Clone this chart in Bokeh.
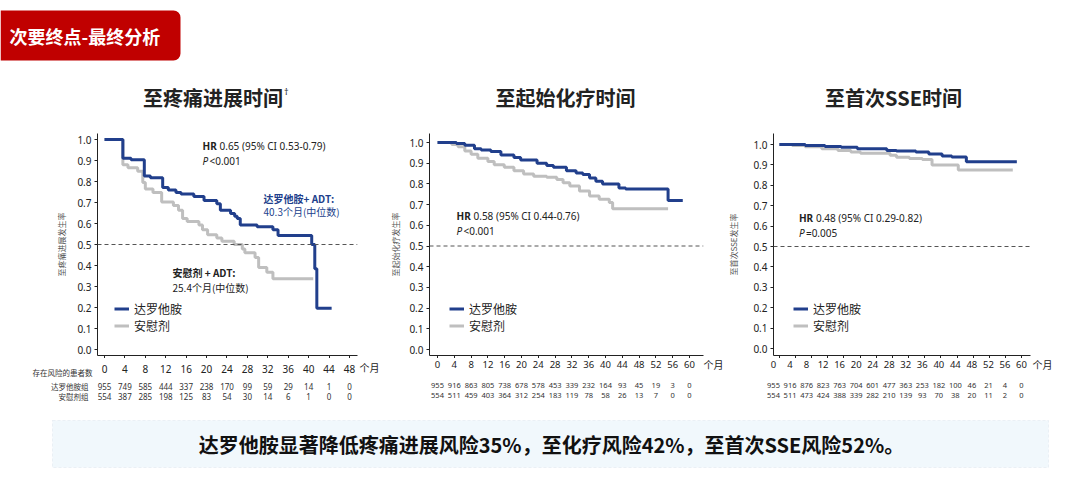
from bokeh.plotting import figure
from bokeh.models import (Range1d, FixedTicker, PrintfTickFormatter, Span, Label, LabelSet,
                          ColumnDataSource, Legend, LegendItem, BoxAnnotation)
from bokeh.layouts import row, column
from bokeh.embed import file_html
from bokeh.resources import INLINE
from bokeh.core.properties import value

CJK = "Noto Sans CJK SC"
LAT = "Noto Sans"
BLUE = "#213f8c"
GRAY = "#bfbfbf"

# ---------------- data ----------------
header_title = "次要终点-最终分析"
chart_titles = ["至疼痛进展时间", "至起始化疗时间", "至首次SSE时间"]
title_marks = ["†", "", ""]
y_labels = ["至疼痛进展发生率", "至起始化疗发生率", "至首次SSE发生率"]
arm_names = ["达罗他胺", "安慰剂"]
risk_row_labels = ["存在风险的患者数", "达罗他胺组", "安慰剂组"]
hr_texts = ["0.65 (95% CI 0.53-0.79)", "0.58 (95% CI 0.44-0.76)", "0.48 (95% CI 0.29-0.82)"]
p_texts = ["<0.001", "<0.001", "=0.005"]
median_dar = ["达罗他胺+ ADT:", "40.3个月(中位数)"]
median_pla = ["安慰剂 + ADT:", "25.4个月(中位数)"]
banner_text = "达罗他胺显著降低疼痛进展风险35%，至化疗风险42%，至首次SSE风险52%。"
unit_label = "个月"
y_ticks = [0.0, 0.1, 0.2, 0.3, 0.4, 0.5, 0.6, 0.7, 0.8, 0.9, 1.0]
x_ticks_48 = [0, 4, 8, 12, 16, 20, 24, 28, 32, 36, 40, 44, 48]
x_ticks_60 = [0, 4, 8, 12, 16, 20, 24, 28, 32, 36, 40, 44, 48, 52, 56, 60]

# Time to pain progression
pain_dar_t = [0, 3.6, 5.2, 7.8, 9.0, 11.4, 12.5, 14.0, 15.0, 17.5, 19.5, 22.0, 22.7, 24.7, 25.5, 26.0, 26.6, 29.9, 33.0, 34.0, 40.6, 41.2, 41.6, 44.5]
pain_dar_s = [1.0, 0.911, 0.904, 0.826, 0.818, 0.772, 0.760, 0.748, 0.741, 0.728, 0.710, 0.694, 0.663, 0.648, 0.635, 0.624, 0.593, 0.585, 0.570, 0.543, 0.500, 0.384, 0.197, 0.197]
pain_pla_t = [0, 3.6, 4.6, 6.5, 7.5, 8.0, 9.5, 11.2, 13.5, 14.5, 15.3, 16.2, 18.5, 19.2, 20.2, 22.0, 23.0, 25.4, 27.0, 27.5, 29.5, 30.2, 31.8, 33.0, 40.9]
pain_pla_s = [1.0, 0.880, 0.865, 0.849, 0.795, 0.764, 0.748, 0.702, 0.686, 0.663, 0.624, 0.609, 0.593, 0.570, 0.547, 0.531, 0.516, 0.500, 0.478, 0.461, 0.438, 0.391, 0.368, 0.337, 0.337]
pain_risk_dar = [955, 749, 585, 444, 337, 238, 170, 99, 59, 29, 14, 1, 0]
pain_risk_pla = [554, 387, 285, 198, 125, 83, 54, 30, 14, 6, 1, 0, 0]

# Time to chemotherapy
chemo_dar_t = [0, 4.5, 6.5, 8.8, 10.4, 12.7, 15.1, 18.2, 19.8, 23.7, 26.0, 27.6, 30.7, 33.0, 34.6, 36.2, 37.7, 39.3, 43.2, 44.8, 54.9, 58.4]
chemo_dar_s = [1.0, 0.995, 0.987, 0.970, 0.964, 0.956, 0.940, 0.927, 0.916, 0.900, 0.889, 0.880, 0.864, 0.853, 0.845, 0.829, 0.813, 0.800, 0.780, 0.775, 0.720, 0.720]
chemo_pla_t = [0, 3.4, 4.9, 6.5, 8.0, 9.6, 12.0, 13.5, 15.9, 18.2, 20.5, 22.9, 26.0, 28.4, 29.9, 31.5, 33.8, 36.2, 38.5, 40.9, 41.7, 54.9]
chemo_pla_s = [1.0, 0.990, 0.979, 0.959, 0.943, 0.924, 0.908, 0.892, 0.880, 0.864, 0.848, 0.837, 0.832, 0.821, 0.805, 0.790, 0.766, 0.742, 0.726, 0.710, 0.680, 0.680]
chemo_risk_dar = [955, 916, 863, 805, 738, 678, 578, 453, 339, 232, 164, 93, 45, 19, 3, 0]
chemo_risk_pla = [554, 511, 459, 403, 364, 312, 254, 183, 119, 78, 58, 26, 13, 7, 0, 0]

# Time to first SSE
sse_dar_t = [0, 6.4, 11.3, 15.3, 19.3, 26.6, 29.0, 33.8, 37.0, 40.3, 42.7, 46.3, 58.8]
sse_dar_s = [1.0, 0.995, 0.990, 0.986, 0.979, 0.971, 0.968, 0.963, 0.954, 0.944, 0.939, 0.915, 0.915]
sse_pla_t = [0, 3.2, 6.4, 10.5, 14.5, 17.7, 20.1, 27.4, 29.0, 32.2, 35.4, 37.8, 44.3, 57.8]
sse_pla_s = [1.0, 0.995, 0.989, 0.979, 0.971, 0.963, 0.957, 0.947, 0.938, 0.931, 0.927, 0.900, 0.875, 0.875]
sse_risk_dar = [955, 916, 876, 823, 763, 704, 601, 477, 363, 253, 182, 100, 46, 21, 4, 0]
sse_risk_pla = [554, 511, 473, 424, 388, 339, 282, 210, 139, 93, 70, 38, 20, 11, 2, 0]

# ---------------- layout geometry (page px) ----------------
W = 1080
HEAD_H = 115                      # header strip: badge + chart titles
FIG_TOP, FRAME_TOP, FRAME_BOTTOM, FIG_BOTTOM = 115, 133, 355, 358
STRIP_BOTTOM = 410                # tick labels + numbers at risk
BANNER_BOTTOM = 478

charts = [
    dict(fig=(0, 385), frame=(97, 357), x0=104, ppx=5.104, y0=349, ppy=210,
         ticks=x_ticks_48, tick_fs="10px", tick_y=368, ylab_stand=7, title_x=212.5,
         dar=(pain_dar_t, pain_dar_s), pla=(pain_pla_t, pain_pla_s),
         risk=(pain_risk_dar, pain_risk_pla), risk_y=(386, 396), risk_fs="8px",
         hr=(202, 145), unit_x=359, unit_y=367, leg_x=17),
    dict(fig=(385, 725), frame=(429, 703), x0=437, ppx=4.2, y0=349, ppy=207,
         ticks=x_ticks_60, tick_fs="9.5px", tick_y=364, ylab_stand=5, title_x=565,
         dar=(chemo_dar_t, chemo_dar_s), pla=(chemo_pla_t, chemo_pla_s),
         risk=(chemo_risk_dar, chemo_risk_pla), risk_y=(385, 395), risk_fs="7.5px",
         hr=(456, 215), unit_x=703, unit_y=364, leg_x=20),
    dict(fig=(725, 1080), frame=(767, 1030), x0=773, ppx=4.133, y0=348, ppy=204,
         ticks=x_ticks_60, tick_fs="9.5px", tick_y=364, ylab_stand=11, title_x=893,
         dar=(sse_dar_t, sse_dar_s), pla=(sse_pla_t, sse_pla_s),
         risk=(sse_risk_dar, sse_risk_pla), risk_y=(385, 395), risk_fs="7.5px",
         hr=(793, 217), unit_x=1032, unit_y=364, leg_x=20),
]


def mx(c, X):
    return (X - c["x0"]) / c["ppx"]


def vy(c, Y):
    return (c["y0"] - Y) / c["ppy"]


# ---------------- header (badge + chart titles) ----------------
h = figure(width=W, height=HEAD_H, x_range=Range1d(0, W), y_range=Range1d(0, HEAD_H),
           min_border=0, toolbar_location=None, output_backend="svg", title=None,
           x_axis_location=None, y_axis_location=None)
h.outline_line_color = None
h.grid.visible = False
h.add_layout(BoxAnnotation(left=0, right=180, bottom=HEAD_H - 60, top=HEAD_H - 10,
                           fill_color="#c00000", fill_alpha=1, line_color=None,
                           border_radius=(0, 7, 7, 0)))
h.add_layout(Label(x=9, y=HEAD_H - 35, text=header_title, text_color="white", text_font=CJK,
                   text_font_size="18px", text_font_style="bold", text_baseline="middle"))
for i, c in enumerate(charts):
    h.add_layout(Label(x=c["title_x"], y=HEAD_H - 97, text=chart_titles[i], text_font=CJK,
                       text_font_size="20px", text_font_style="bold", text_color="#222222",
                       text_align="center", text_baseline="middle"))
    if title_marks[i]:
        h.add_layout(Label(x=c["title_x"] + 71, y=HEAD_H - 91, text=title_marks[i], text_font=LAT,
                           text_font_size="9px", text_color="#222222", text_baseline="middle"))

# ---------------- KM charts ----------------
figs = []
for i, c in enumerate(charts):
    fl, fr = c["fig"]
    al, ar = c["frame"]
    p = figure(width=fr - fl, height=FIG_BOTTOM - FIG_TOP, title=None,
               x_range=Range1d(mx(c, al), mx(c, ar)),
               y_range=Range1d(vy(c, FRAME_BOTTOM), vy(c, FRAME_TOP)),
               min_border_left=al - fl, min_border_right=fr - ar,
               min_border_top=FRAME_TOP - FIG_TOP, min_border_bottom=FIG_BOTTOM - FRAME_BOTTOM,
               toolbar_location=None, output_backend="svg")
    p.outline_line_color = None
    p.xgrid.visible = False
    p.ygrid.visible = False

    p.xaxis.ticker = FixedTicker(ticks=c["ticks"])
    p.yaxis.ticker = FixedTicker(ticks=y_ticks)
    p.yaxis.formatter = PrintfTickFormatter(format="%.1f")
    for ax in (p.xaxis, p.yaxis):
        ax.major_tick_in = 0
        ax.major_tick_out = 3
        ax.minor_tick_line_color = None
        ax.axis_line_color = "#222222"
        ax.major_tick_line_color = "#222222"
        ax.major_label_text_font = LAT
        ax.major_label_text_color = "#222222"
    # x tick labels are written in the strip below (same scale), so the axis keeps only ticks
    p.xaxis.major_label_overrides = {t_: "" for t_ in c["ticks"]}
    p.xaxis.major_label_text_font_size = "0px"
    p.xaxis.major_label_standoff = 0
    p.yaxis.major_label_text_font_size = "10px"
    p.yaxis.major_label_standoff = 3
    p.yaxis.axis_label = y_labels[i]
    p.yaxis.axis_label_text_font = CJK
    p.yaxis.axis_label_text_font_size = "8px"
    p.yaxis.axis_label_text_font_style = "normal"
    p.yaxis.axis_label_text_color = "#555555"
    p.yaxis.axis_label_standoff = c["ylab_stand"]

    p.add_layout(Span(location=0.5, dimension="width", line_color="#555555",
                      line_dash="4 3", line_width=1))

    r_p = p.step(c["pla"][0], c["pla"][1], mode="after", line_color=GRAY, line_width=3)
    r_d = p.step(c["dar"][0], c["dar"][1], mode="after", line_color=BLUE, line_width=3)

    leg = Legend(items=[LegendItem(label=arm_names[0], renderers=[r_d]),
                        LegendItem(label=arm_names[1], renderers=[r_p])],
                 location=(c["leg_x"], 21))
    leg.background_fill_alpha = 0
    leg.border_line_alpha = 0
    leg.glyph_width = 15
    leg.glyph_height = 15
    leg.label_height = 15
    leg.label_standoff = 5
    leg.spacing = 0
    leg.padding = 0
    leg.margin = 0
    leg.label_text_font = CJK
    leg.label_text_font_size = "12px"
    leg.label_text_color = "#222222"
    p.add_layout(leg)

    hx, hy = c["hr"]
    p.add_layout(Label(x=mx(c, hx), y=vy(c, hy), text="HR", text_font=LAT,
                       text_font_size="10px", text_font_style="bold", text_color="#222222",
                       text_baseline="middle"))
    p.add_layout(Label(x=mx(c, hx), y=vy(c, hy), x_offset=17, text=hr_texts[i], text_font=LAT,
                       text_font_size="10px", text_color="#222222", text_baseline="middle"))
    p.add_layout(Label(x=mx(c, hx), y=vy(c, hy + 15), text="P", text_font=LAT,
                       text_font_size="10px", text_font_style="italic", text_color="#222222",
                       text_baseline="middle"))
    p.add_layout(Label(x=mx(c, hx), y=vy(c, hy + 15), x_offset=7, text=p_texts[i], text_font=LAT,
                       text_font_size="10px", text_color="#222222", text_baseline="middle"))

    if i == 0:
        for k, (txt, Y) in enumerate(zip(median_dar, (198, 211))):
            p.add_layout(Label(x=mx(c, 263), y=vy(c, Y), text=txt, text_font=CJK,
                               text_font_size="10px", text_font_style="bold" if k == 0 else "normal",
                               text_color=BLUE, text_baseline="middle"))
        for k, (txt, Y) in enumerate(zip(median_pla, (272, 287))):
            p.add_layout(Label(x=mx(c, 172), y=vy(c, Y), text=txt, text_font=CJK,
                               text_font_size="10px", text_font_style="bold" if k == 0 else "normal",
                               text_color="#222222", text_baseline="middle"))
    figs.append(p)

# ---------------- strip: x tick labels, unit and numbers at risk ----------------
SH = STRIP_BOTTOM - FIG_BOTTOM
t = figure(width=W, height=SH, x_range=Range1d(0, W), y_range=Range1d(0, SH),
           min_border=0, toolbar_location=None, output_backend="svg", title=None,
           x_axis_location=None, y_axis_location=None)
t.outline_line_color = None
t.grid.visible = False
t.extra_x_ranges = {"c%d" % i: Range1d(mx(c, 0), mx(c, W)) for i, c in enumerate(charts)}
for i, c in enumerate(charts):
    ticks = c["ticks"]
    n = len(ticks)
    tick_src = ColumnDataSource(dict(x=list(ticks), y=[STRIP_BOTTOM - c["tick_y"]] * n,
                                     text=[str(v) for v in ticks]))
    t.add_layout(LabelSet(source=tick_src, x="x", y="y", text="text", x_range_name="c%d" % i,
                          text_align="center", text_baseline="middle", text_font=value(LAT),
                          text_font_size=c["tick_fs"], text_color="#222222"))
    y1, y2 = STRIP_BOTTOM - c["risk_y"][0], STRIP_BOTTOM - c["risk_y"][1]
    src = ColumnDataSource(dict(
        x=list(ticks) + list(ticks),
        y=[y1] * n + [y2] * n,
        text=[str(v) for v in c["risk"][0]] + [str(v) for v in c["risk"][1]],
    ))
    t.add_layout(LabelSet(source=src, x="x", y="y", text="text", x_range_name="c%d" % i,
                          text_align="center", text_baseline="middle", text_font=value(LAT),
                          text_font_size=c["risk_fs"], text_color="#333333"))
    t.add_layout(Label(x=c["unit_x"], y=STRIP_BOTTOM - c["unit_y"], text=unit_label, text_font=CJK,
                       text_font_size="10px", text_color="#222222", text_baseline="middle"))
for txt, X, Y in zip(risk_row_labels, (92, 88, 88), (372, 386, 396)):
    t.add_layout(Label(x=X, y=STRIP_BOTTOM - Y, text=txt, text_font=CJK,
                       text_font_size="7.5px", text_color="#333333",
                       text_align="right", text_baseline="middle"))

# ---------------- banner ----------------
BH = BANNER_BOTTOM - STRIP_BOTTOM
b = figure(width=W, height=BH, x_range=Range1d(0, W), y_range=Range1d(0, BH),
           min_border=0, toolbar_location=None, output_backend="svg", title=None,
           x_axis_location=None, y_axis_location=None)
b.outline_line_color = None
b.grid.visible = False
b.add_layout(BoxAnnotation(left=52, right=1048, bottom=BANNER_BOTTOM - 467, top=BANNER_BOTTOM - 420,
                           fill_color="#f1f8fc", fill_alpha=1, line_color="#c9d7e3",
                           line_dash="3 2", line_width=1))
b.add_layout(Label(x=551, y=BANNER_BOTTOM - 444, text=banner_text, text_font=CJK, text_font_size="20px",
                   text_font_style="bold", text_color="#111111", text_align="center",
                   text_baseline="middle"))

layout = column(h, row(*figs), t, b)
open("out.html", "w").write(file_html(layout, INLINE))
